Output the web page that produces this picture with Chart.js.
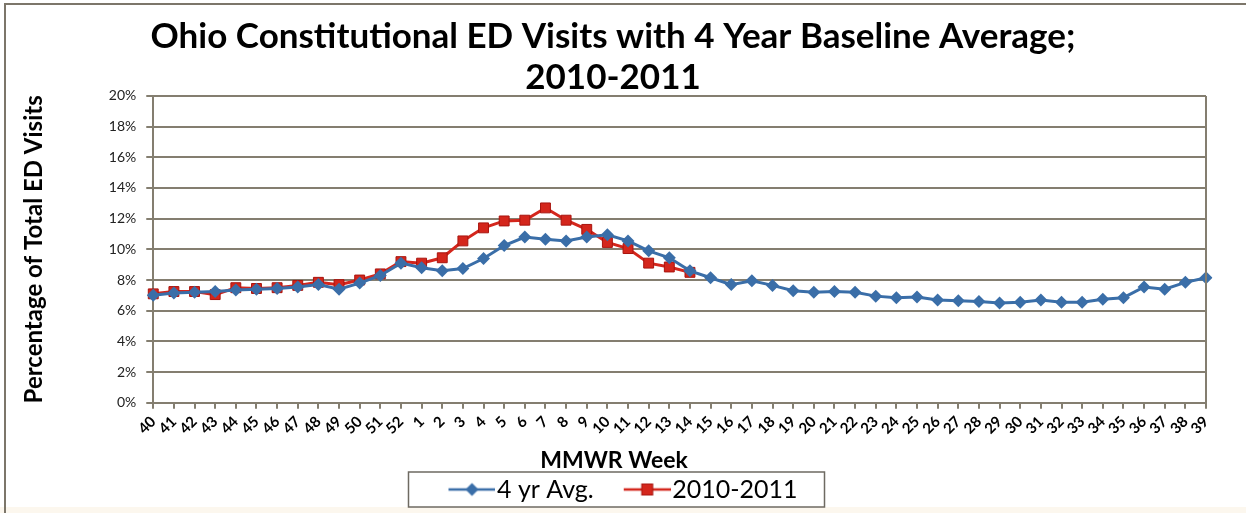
<!DOCTYPE html>
<html>
<head>
<meta charset="utf-8">
<script src="https://cdn.jsdelivr.net/npm/chart.js@4.4.1/dist/chart.umd.min.js"></script>
<style>
  html, body { margin: 0; padding: 0; background: #ffffff; }
  #wrap { width: 1246px; height: 513px; position: relative; }
</style>
</head>
<body>
<div id="wrap"><canvas id="edChart" width="1246" height="513"></canvas></div>
<script>
// Week labels (MMWR weeks 40..52, then 1..39)
const weeks = ['40','41','42','43','44','45','46','47','48','49','50','51','52',
  '1','2','3','4','5','6','7','8','9','10','11','12','13','14','15','16','17','18','19',
  '20','21','22','23','24','25','26','27','28','29','30','31','32','33','34','35','36','37','38','39'];

// 4 year baseline average (%)
const avg4yr = [7.0, 7.15, 7.2, 7.25, 7.35, 7.4, 7.45, 7.55, 7.7, 7.4, 7.8, 8.3, 9.1,
  8.8, 8.6, 8.75, 9.4, 10.25, 10.8, 10.65, 10.55, 10.8, 10.95, 10.55, 9.9, 9.45, 8.6,
  8.15, 7.7, 7.95, 7.65, 7.3, 7.2, 7.25, 7.2, 6.95, 6.85, 6.9, 6.7, 6.65, 6.6, 6.5,
  6.55, 6.7, 6.55, 6.55, 6.75, 6.85, 7.55, 7.4, 7.85, 8.15];

// 2010-2011 season (%), reported through week 14
const season1011 = [7.1, 7.25, 7.25, 7.05, 7.5, 7.45, 7.5, 7.65, 7.85, 7.7, 8.0, 8.4, 9.2,
  9.1, 9.45, 10.55, 11.4, 11.85, 11.9, 12.7, 11.9, 11.3, 10.45, 10.05, 9.1, 8.85, 8.5,
  null, null, null, null, null, null, null, null, null, null, null, null, null, null, null,
  null, null, null, null, null, null, null, null, null, null];

const yTicks = [0, 2, 4, 6, 8, 10, 12, 14, 16, 18, 20];

const blue = '#3a6ea8';
const red = '#d4261c';
const gridColor = '#847e70';
const font = 'Lato, "Open Sans", sans-serif';

// legend sample: line with marker in the middle (blank strip on the left for spacing)
const ICON_W = 56;
function legendIcon(color, shape) {
  const c = document.createElement('canvas');
  c.width = ICON_W + 22; c.height = 16;
  const g = c.getContext('2d');
  const x0 = 31, x1 = c.width, mid = (x0 + x1) / 2;
  g.strokeStyle = color; g.lineWidth = 2.5;
  g.beginPath(); g.moveTo(x0, 8); g.lineTo(x1, 8); g.stroke();
  g.fillStyle = color;
  if (shape === 'diamond') {
    g.beginPath(); g.moveTo(mid, 1.5); g.lineTo(mid + 6.5, 8); g.lineTo(mid, 14.5); g.lineTo(mid - 6.5, 8); g.closePath(); g.fill();
  } else {
    g.fillRect(mid - 5.5, 2.5, 11, 11);
    g.strokeStyle = '#a8140e'; g.lineWidth = 1; g.strokeRect(mid - 5.5, 2.5, 11, 11);
  }
  return c;
}

const framePlugin = {
  id: 'frame',
  beforeDraw(chart) {
    const g = chart.ctx;
    g.save();
    g.fillStyle = '#ffffff';
    g.fillRect(0, 0, chart.width, chart.height);
    g.fillStyle = '#fcf7ee';
    g.fillRect(0, 507, chart.width, chart.height - 507);
    g.strokeStyle = '#7c766a';
    g.lineWidth = 2;
    g.beginPath();
    g.moveTo(5, chart.height); g.lineTo(5, 4); g.lineTo(chart.width, 4);
    g.stroke();
    g.restore();
  },
  afterDraw(chart) {
    const g = chart.ctx;
    const area = chart.chartArea;
    g.save();
    // right border of plot area
    g.strokeStyle = gridColor; g.lineWidth = 2;
    g.beginPath(); g.moveTo(area.right, area.top); g.lineTo(area.right, area.bottom); g.stroke();
    // x axis title, centred on the page like the original
    g.fillStyle = '#000';
    g.font = 'bold 23px ' + font;
    g.textAlign = 'center'; g.textBaseline = 'middle';
    g.fillText('MMWR Week', 614, 461);
    // legend frame
    const boxes = chart.legend.legendHitBoxes;
    if (boxes && boxes.length) {
      const l = Math.min(...boxes.map(b => b.left)) + 20 - 40;
      const r = Math.max(...boxes.map(b => b.left + b.width)) + 27;
      g.strokeStyle = '#6e6a62'; g.lineWidth = 1.5;
      g.strokeRect(l, 472, r - l, 35);
    }
    g.restore();
  }
};

new Chart(document.getElementById('edChart'), {
  type: 'line',
  data: {
    labels: weeks,
    datasets: [{
      label: '4 yr Avg.',
      data: avg4yr,
      borderColor: blue,
      backgroundColor: blue,
      borderWidth: 3,
      pointStyle: 'rectRot',
      pointRadius: 6.5,
      pointBorderWidth: 0,
      tension: 0,
    }, {
      label: '2010-2011',
      data: season1011,
      borderColor: red,
      backgroundColor: red,
      borderWidth: 3,
      pointStyle: 'rect',
      pointRadius: 7,
      pointBorderColor: '#a8140e',
      pointBorderWidth: 1,
      tension: 0,
      spanGaps: false,
    }],
  },
  options: {
    responsive: false,
    animation: false,
    layout: { padding: { left: 20, right: 40, top: 0, bottom: 1 } },
    plugins: {
      title: {
        display: true,
        text: ['Ohio Constitutional ED Visits with 4 Year Baseline Average;', '2010-2011'],
        color: '#000',
        font: { family: font, size: 35, weight: 'bold', lineHeight: 1.17 },
        padding: { top: 16, bottom: -2 },
      },
      legend: {
        position: 'bottom',
        labels: {
          color: '#000',
          font: { family: font, size: 25 },
          usePointStyle: true,
          pointStyleWidth: ICON_W,
          boxHeight: 16,
          padding: 10,
          generateLabels(chart) {
            return chart.data.datasets.map((ds, i) => ({
              text: ds.label,
              fontColor: '#000',
              pointStyle: legendIcon(ds.borderColor, i === 0 ? 'diamond' : 'square'),
              lineWidth: 0,
              strokeStyle: 'transparent',
              datasetIndex: i,
            }));
          },
        },
      },
      tooltip: { enabled: false },
    },
    scales: {
      x: {
        offset: false,
        grid: { display: true, drawOnChartArea: false, color: gridColor, lineWidth: 2, tickLength: 6 },
        border: { color: gridColor, width: 2 },
        ticks: {
          color: '#000',
          font: { family: font, size: 15, weight: 'bold' },
          minRotation: 45,
          maxRotation: 45,
          autoSkip: false,
          padding: 4,
        },
        title: {
          display: true,
          text: 'MMWR Week',
          color: 'rgba(0,0,0,0)',
          font: { family: font, size: 21, weight: 'bold' },
          padding: { top: 0, bottom: 0 },
        },
      },
      y: {
        min: 0,
        max: 20,
        afterBuildTicks(axis) { axis.ticks = yTicks.map(v => ({ value: v })); },
        grid: { color: gridColor, lineWidth: 2, tickLength: 7 },
        border: { color: gridColor, width: 2 },
        ticks: {
          color: '#222',
          font: { family: font, size: 14 },
          padding: 10,
          callback: v => v + '%',
        },
        title: {
          display: true,
          text: 'Percentage of Total ED Visits',
          color: '#000',
          font: { family: font, size: 24, weight: 'bold' },
          padding: { top: 0, bottom: 50 },
        },
      },
    },
  },
  plugins: [framePlugin],
});
</script>
</body>
</html>
